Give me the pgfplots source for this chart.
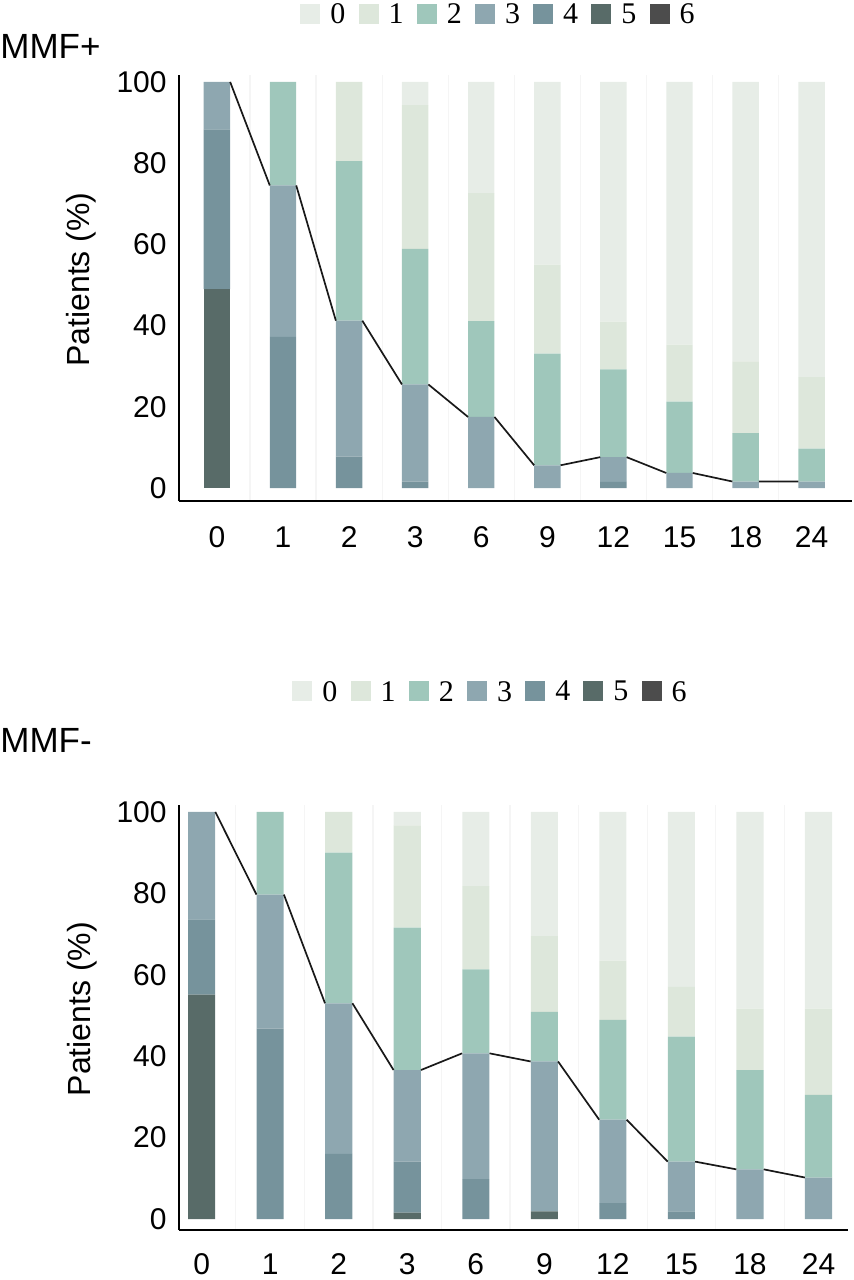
\documentclass[border=0pt]{standalone}
\usepackage{fontspec}
\setmainfont{Liberation Sans}
\newfontfamily\seriffont{Liberation Serif}
\usepackage{pgfplots}
\pgfplotsset{compat=1.18}
\usepackage{pgfplotstable}

\definecolor{s0}{RGB}{231,237,231}
\definecolor{s1}{RGB}{221,231,219}
\definecolor{s2}{RGB}{159,199,187}
\definecolor{s3}{RGB}{142,167,176}
\definecolor{s4}{RGB}{118,147,156}
\definecolor{s5}{RGB}{88,107,104}
\definecolor{s6}{RGB}{76,76,76}

% MMF+ : percentage of patients per grade (0..6) at each month
\pgfplotstableread{
x c0 c1 c2 c3 c4 c5 c6
0 0 0 0 11.7 39.3 49.0 0
1 0 0 25.5 37.3 37.2 0 0
2 0 19.5 39.3 33.5 7.7 0 0
3 5.7 35.4 33.4 23.9 1.6 0 0
4 27.4 31.5 23.6 17.5 0 0 0
5 45.0 21.9 27.5 5.6 0 0 0
6 59.0 11.8 21.6 6.1 1.5 0 0
7 64.7 14.0 17.6 3.7 0 0 0
8 68.8 17.7 11.9 1.6 0 0 0
9 72.7 17.6 8.1 1.6 0 0 0
}\mmfplus

% MMF- 
\pgfplotstableread{
x c0 c1 c2 c3 c4 c5 c6
0 0 0 0 26.4 18.5 55.1 0
1 0 0 20.3 32.9 46.8 0 0
2 0 10.0 37.0 37.0 16.0 0 0
3 3.3 25.1 35.0 22.5 12.5 1.6 0
4 18.2 20.5 20.6 30.9 9.8 0 0
5 30.5 18.6 12.2 36.8 0 1.9 0
6 36.5 14.6 24.5 20.5 3.9 0 0
7 43.0 12.2 30.7 12.2 1.9 0 0
8 48.3 15.1 24.4 12.2 0 0 0
9 48.3 21.2 20.3 10.2 0 0 0
}\mmfminus

\pgfplotsset{
  common/.style={
    scale only axis, anchor=south west,
    ybar stacked,
    axis x line*=bottom, axis y line*=left,
    axis line style={line width=1.4pt, black},
    ytick={0,20,...,100},
    xtick={0,...,9},
    xticklabels={0,1,2,3,6,9,12,15,18,24},
    major tick length=0pt, minor tick length=0pt,
    tick label style={font=\fontsize{15}{15}\selectfont},
    /pgf/number format/assume math mode=true,
    xticklabel style={inner sep=0pt, yshift=-12.5pt},
    yticklabel style={inner sep=0pt, xshift=-6pt},
    ylabel={Patients (\%)},
    every axis y label/.style={at={(axis description cs:-0.145,0.52)}, rotate=90, anchor=center, font=\fontsize{16}{16}\selectfont},
    minor xtick={0.5,1.5,...,8.5},
    xminorgrids,
    minor grid style={black!4, line width=0.6pt},
    reverse legend,
    legend image code/.code={\fill[##1] (0pt,-5pt) rectangle (10pt,5pt);},
    legend style={draw=none, fill=none, anchor=west, inner sep=0pt,
      legend columns=-1,
      font=\seriffont\fontsize{15}{15}\selectfont,
      nodes={inner sep=0pt, text depth=0pt, font=\seriffont\fontsize{15}{15}\selectfont},
      cells={anchor=west},
      /tikz/every odd column/.append style={column sep=5pt},
      /tikz/every even column/.append style={column sep=6.6pt}},
  },
  lineover/.style={
    scale only axis, anchor=south west, axis lines=none, ticks=none,
    unbounded coords=jump, clip=false,
  },
}

\begin{document}
\begin{tikzpicture}
\useasboundingbox (0,0) rectangle (427pt,-640pt);

\node[anchor=base west, inner sep=0pt, font=\fontsize{17.5}{17.5}\selectfont] at (0pt,-29pt) {MMF+};
\node[anchor=base west, inner sep=0pt, font=\fontsize{17.5}{17.5}\selectfont] at (0pt,-376.3pt) {MMF-};

% ---------------- MMF+ ----------------
\begin{axis}[common, at={(89.5pt,-250.5pt)}, width=336.5pt, height=213pt,
  xmin=-0.574, xmax=9.61, ymin=-3.2, ymax=101.7, bar width=0.40,
  legend style={at={(0.1798,1.1432)}}]
\addplot[fill=s6, draw=none] table[x=x, y=c6] {\mmfplus};
\addplot[fill=s5, draw=none] table[x=x, y=c5] {\mmfplus};
\addplot[fill=s4, draw=none] table[x=x, y=c4] {\mmfplus};
\addplot[fill=s3, draw=none] table[x=x, y=c3] {\mmfplus};
\addplot[fill=s2, draw=none] table[x=x, y=c2] {\mmfplus};
\addplot[fill=s1, draw=none] table[x=x, y=c1] {\mmfplus};
\addplot[fill=s0, draw=none] table[x=x, y=c0] {\mmfplus};
\legend{6,5,4,3,2,1,0}
\end{axis}
\begin{axis}[lineover, at={(89.5pt,-250.5pt)}, width=336.5pt, height=213pt,
  xmin=-0.574, xmax=9.61, ymin=-3.2, ymax=101.7]
\addplot[black!90, line width=0.85pt] coordinates {
 (0.2,100) (0.8,74.5) (1,nan)
 (1.2,74.5) (1.8,41.2) (2,nan)
 (2.2,41.2) (2.8,25.5) (3,nan)
 (3.2,25.5) (3.8,17.5) (4,nan)
 (4.2,17.5) (4.8,5.6) (5,nan)
 (5.2,5.6) (5.8,7.6) (6,nan)
 (6.2,7.6) (6.8,3.7) (7,nan)
 (7.2,3.7) (7.8,1.6) (8,nan)
 (8.2,1.6) (8.8,1.6)};
\end{axis}

% ---------------- MMF- ----------------
\begin{axis}[common, at={(89.5pt,-615pt)}, width=334.5pt, height=212.5pt,
  xmin=-0.33, xmax=9.43, ymin=-2.7, ymax=101.7, bar width=0.395,
  xticklabel style={yshift=1pt},
  legend style={at={(0.169,1.268)}}]
\addplot[fill=s6, draw=none] table[x=x, y=c6] {\mmfminus};
\addplot[fill=s5, draw=none] table[x=x, y=c5] {\mmfminus};
\addplot[fill=s4, draw=none] table[x=x, y=c4] {\mmfminus};
\addplot[fill=s3, draw=none] table[x=x, y=c3] {\mmfminus};
\addplot[fill=s2, draw=none] table[x=x, y=c2] {\mmfminus};
\addplot[fill=s1, draw=none] table[x=x, y=c1] {\mmfminus};
\addplot[fill=s0, draw=none] table[x=x, y=c0] {\mmfminus};
\legend{6,5,4,3,2,1,0}
\end{axis}
\begin{axis}[lineover, at={(89.5pt,-615pt)}, width=334.5pt, height=212.5pt,
  xmin=-0.33, xmax=9.43, ymin=-2.7, ymax=101.7]
\addplot[black!90, line width=0.85pt] coordinates {
 (0.2,100) (0.8,79.7) (1,nan)
 (1.2,79.7) (1.8,53.0) (2,nan)
 (2.2,53.0) (2.8,36.6) (3,nan)
 (3.2,36.6) (3.8,40.7) (4,nan)
 (4.2,40.7) (4.8,38.7) (5,nan)
 (5.2,38.7) (5.8,24.4) (6,nan)
 (6.2,24.4) (6.8,14.1) (7,nan)
 (7.2,14.1) (7.8,12.2) (8,nan)
 (8.2,12.2) (8.8,10.2)};
\end{axis}
\end{tikzpicture}
\end{document}
